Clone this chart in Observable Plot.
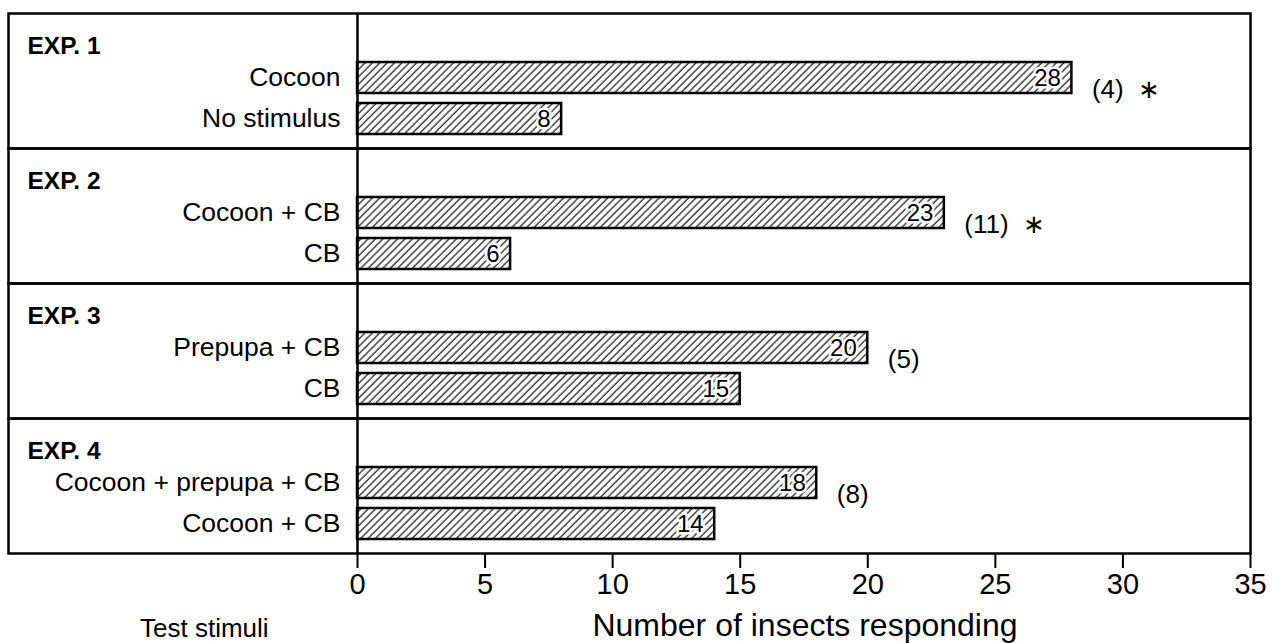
<!DOCTYPE html>
<html>
<head>
<meta charset="utf-8">
<script src="https://cdn.jsdelivr.net/npm/d3@7"></script>
<script src="https://cdn.jsdelivr.net/npm/@observablehq/plot@0.6"></script>
<style>
  html, body { margin: 0; padding: 0; background: white; }
  #wrap { position: relative; width: 1284px; height: 643px; }
  .lbl { position: absolute; font-family: "Liberation Sans", Arial, sans-serif; color: black; white-space: nowrap; line-height: 1; }
  #ylabel { left: 140px; top: 615px; font-size: 26px; }
  #xlabel { left: 805px; top: 609px; font-size: 32px; transform: translateX(-50%); }
</style>
</head>
<body>
<div id="wrap">
  <div id="ylabel" class="lbl">Test stimuli</div>
  <div id="xlabel" class="lbl">Number of insects responding</div>
</div>
<script>
const experiments = ["EXP. 1", "EXP. 2", "EXP. 3", "EXP. 4"];
const stimuliFirst = ["Cocoon", "Cocoon + CB", "Prepupa + CB", "Cocoon + prepupa + CB"];
const stimuliSecond = ["No stimulus", "CB", "CB", "Cocoon + CB"];
const countsFirst = [28, 23, 20, 18];
const countsSecond = [8, 6, 15, 14];
const notes = ["(4)  \u2217", "(11)  \u2217", "(5)", "(8)"];
const xTicks = [0, 5, 10, 15, 20, 25, 30, 35];

const rows = experiments.flatMap((exp, i) => {
  const top = Math.max(countsFirst[i], countsSecond[i]);
  return [
    {exp, rank: 0, stimulus: stimuliFirst[i], count: countsFirst[i], note: notes[i], top},
    {exp, rank: 1, stimulus: stimuliSecond[i], count: countsSecond[i], note: notes[i], top}
  ];
});

const hasAxisMark = typeof Plot.axisX === "function";
const axisOpts = {ticks: xTicks, tickSize: 15, tickPadding: 5, label: null};

const chart = Plot.plot({
  width: 1284,
  height: 643,
  marginTop: 13,
  marginBottom: 90,
  marginLeft: 8,
  marginRight: 34,
  style: {fontFamily: "'Liberation Sans', Arial, sans-serif", fontSize: "28px", color: "black", background: "white"},
  facet: {data: rows, y: "exp"},
  fy: {domain: experiments, padding: 0, axis: null, label: null},
  y: {type: "band", domain: [0, 1], axis: null, insetTop: 49, insetBottom: 14, paddingInner: 0.244, paddingOuter: 0},
  x: hasAxisMark ? {domain: [0, 35], range: [357, 1250], axis: null}
                 : {domain: [0, 35], range: [357, 1250], ...axisOpts},
  marks: [
    Plot.frame({stroke: "black", strokeWidth: 2.5}),
    Plot.barX(rows, {x: "count", y: "rank", fill: "url(#hatch)", stroke: "black", strokeWidth: 2.5}),
    Plot.text(rows, {x: "count", y: "rank", text: d => String(d.count), textAnchor: "end", dx: -11, fontSize: 24,
      fill: "black", stroke: "white", strokeWidth: 5, paintOrder: "stroke"}),
    Plot.text(rows, {x: 0, y: "rank", text: "stimulus", textAnchor: "end", dx: -17, fontSize: 26.5, fill: "black"}),
    Plot.text(rows, {filter: d => d.rank === 0, text: "exp", frameAnchor: "top-left", dx: 19, dy: 33,
      textAnchor: "start", lineAnchor: "middle", fontWeight: "bold", fontSize: 24.5, fill: "black"}),
    Plot.text(rows, {filter: d => d.rank === 0, x: "top", y: "rank", text: "note", textAnchor: "start",
      dx: 20, dy: 12, fontSize: 26, fill: "black"}),
    Plot.ruleX([0], {stroke: "black", strokeWidth: 2.5}),
    ...(hasAxisMark ? [Plot.axisX({...axisOpts, fontSize: 29, strokeWidth: 2, anchor: "bottom"})] : [])
  ]
});

const svg = chart.tagName.toLowerCase() === "svg" ? chart : chart.querySelector("svg");
const defs = d3.select(svg).insert("defs", ":first-child");
const pat = defs.append("pattern")
  .attr("id", "hatch")
  .attr("patternUnits", "userSpaceOnUse")
  .attr("width", 5.2).attr("height", 5.2)
  .attr("patternTransform", "rotate(45)");
pat.append("rect").attr("width", 5.2).attr("height", 5.2).attr("fill", "white");
pat.append("line").attr("x1", 1).attr("y1", 0).attr("x2", 1).attr("y2", 5.2)
  .attr("stroke", "black").attr("stroke-width", 1.1);

document.getElementById("wrap").prepend(chart);
</script>
</body>
</html>
